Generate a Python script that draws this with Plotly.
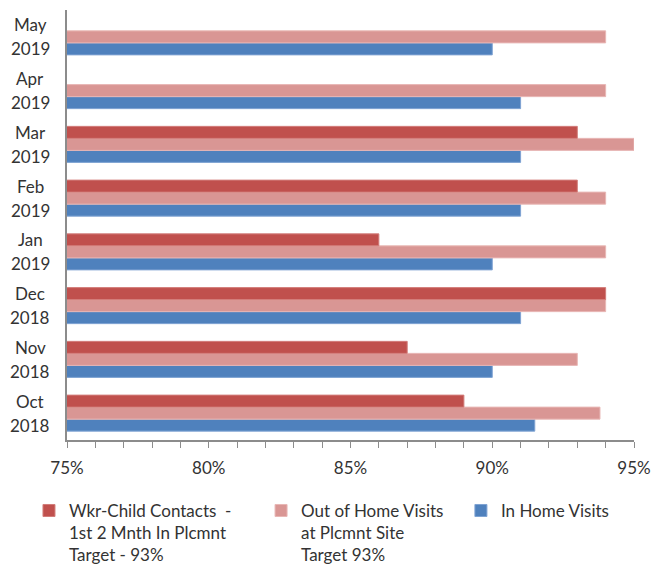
import plotly.graph_objects as go

months = ["Oct", "Nov", "Dec", "Jan", "Feb", "Mar", "Apr", "May"]
years = ["2018", "2018", "2018", "2019", "2019", "2019", "2019", "2019"]
categories = [f"{m} {y}" for m, y in zip(months, years)]

wkr_child = [89, 87, 94, 86, 93, 93, None, None]
out_home = [93.8, 93, 94, 94, 94, 95, 94, 94]
in_home = [91.5, 90, 91, 90, 91, 91, 91, 90]

names = {
    "wkr": "Wkr-Child Contacts  -<br>1st 2 Mnth In Plcmnt<br>Target - 93%",
    "out": "Out of Home Visits<br>at Plcmnt Site<br>Target 93%",
    "in": "In Home Visits",
}
x_ticks = [75, 80, 85, 90, 95]
x_ticktext = [f"{v}%" for v in x_ticks]

FONT = "Lato, 'Open Sans', sans-serif"
TXT = "#333333"

fig = go.Figure()
fig.add_trace(go.Bar(y=categories, x=in_home, orientation="h", name=names["in"],
                     legend="legend3",
                     marker=dict(color="#4F81BD", line=dict(color="#7fa3d3", width=1))))
fig.add_trace(go.Bar(y=categories, x=out_home, orientation="h", name=names["out"],
                     legend="legend2",
                     marker=dict(color="#D99694", line=dict(color="#e8b7b5", width=1))))
fig.add_trace(go.Bar(y=categories, x=wkr_child, orientation="h", name=names["wkr"],
                     legend="legend",
                     marker=dict(color="#C0504D", line=dict(color="#d27d7a", width=1))))

for cat, m, y in zip(categories, months, years):
    fig.add_annotation(x=-0.065, xref="paper", y=cat, yref="y", text=m, yshift=12,
                       showarrow=False, xanchor="center", yanchor="middle",
                       font=dict(family=FONT, size=17, color=TXT))
    fig.add_annotation(x=-0.065, xref="paper", y=cat, yref="y", text=y, yshift=-12,
                       showarrow=False, xanchor="center", yanchor="middle",
                       font=dict(family=FONT, size=17, color=TXT))

def leg(x):
    return dict(orientation="h", xref="container", yref="container",
                x=x, xanchor="left", y=0.126, yanchor="top",
                valign="top", font=dict(size=17, color=TXT, family=FONT),
                itemwidth=30, bgcolor="rgba(0,0,0,0)")

fig.update_layout(
    width=651, height=564,
    margin=dict(l=67, r=17, t=10, b=124),
    paper_bgcolor="white", plot_bgcolor="white",
    barmode="group", bargap=0.33, bargroupgap=0,
    font=dict(family=FONT, size=17, color=TXT),
    showlegend=True,
    legend=leg(0.0445),
    legend2=leg(0.401),
    legend3=leg(0.708),
)
fig.update_xaxes(range=[75, 95], tickvals=x_ticks, ticktext=x_ticktext, showgrid=False,
                 automargin=False,
                 zeroline=False, showline=True, linecolor="#8c8c8c", linewidth=2,
                 ticks="outside", ticklen=6, tickcolor="#8c8c8c", tickwidth=1,
                 minor=dict(dtick=1, ticks="outside", ticklen=6, tickcolor="#8c8c8c", tickwidth=1),
                 ticklabelstandoff=6, tickfont=dict(size=17, color=TXT))
fig.update_yaxes(categoryorder="array", categoryarray=categories, showticklabels=False,
                 automargin=False,
                 showgrid=False, zeroline=False, showline=True, linecolor="#8c8c8c", linewidth=2,
                 ticks="")

fig.write_html("out.html", config={"displayModeBar": False},
               post_script="document.body.style.margin='0';")
